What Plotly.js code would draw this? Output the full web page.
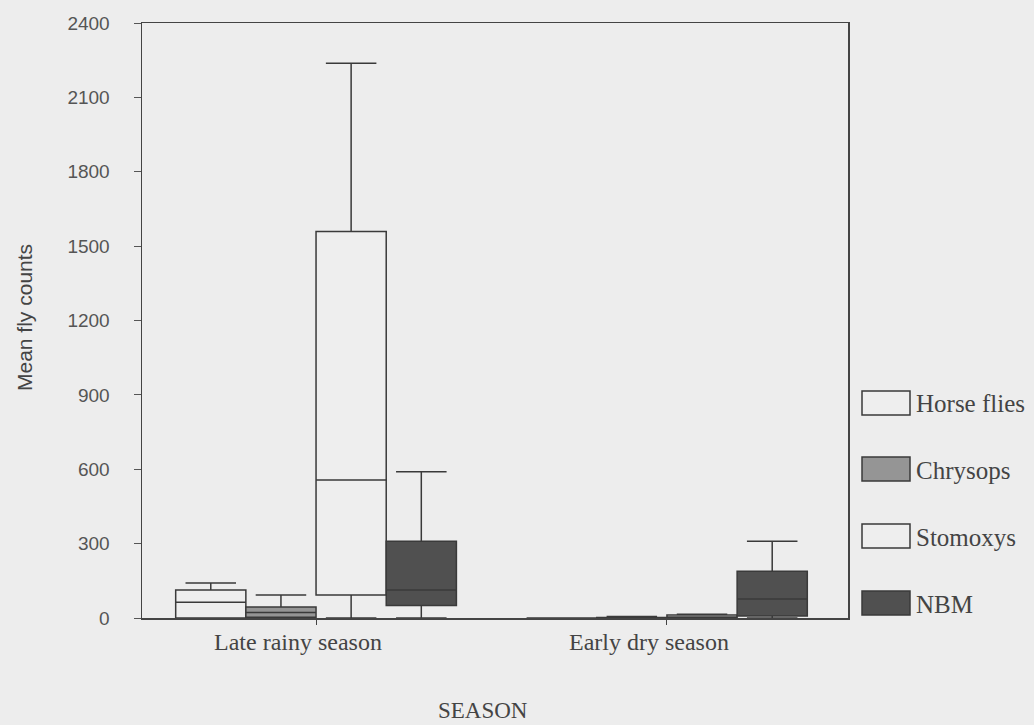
<!DOCTYPE html>
<html><head><meta charset="utf-8">
<script src="https://cdn.plot.ly/plotly-3.0.1.min.js"></script>
<style>body{margin:0;background:#ededed}</style></head>
<body><div id="chart" style="width:1034px;height:725px"></div>
<script>
// Categories and series
const seasons = ['Late rainy season', 'Early dry season'];
const species = ['Horse flies', 'Chrysops', 'Stomoxys', 'NBM'];
// Box statistics per species (order as in species), for each season
const lateLow    = [0, 0, 0, 0];
const lateQ1     = [0, 3, 93, 50];
const lateMedian = [64, 22, 557, 113];
const lateQ3     = [113, 44, 1559, 310];
const lateHigh   = [141, 93, 2238, 590];
const earlyLow    = [0, 0, 0, 0];
const earlyQ1     = [0, 0, 0, 8];
const earlyMedian = [0, 0, 4, 77];
const earlyQ3     = [0, 2, 12, 189];
const earlyHigh   = [0, 6, 15, 310];
const yTicks = [0, 300, 600, 900, 1200, 1500, 1800, 2100, 2400];

const fills = ['#eeeeee', '#959595', '#eeeeee', '#505050'];
const lineCol = '#3a3a3a';
const serif = 'Liberation Serif, serif';
const sans = 'Liberation Sans, Arial, sans-serif';

const traces = species.map((s, i) => ({
  type: 'box',
  name: s,
  x: seasons,
  lowerfence: [lateLow[i], earlyLow[i]],
  q1: [lateQ1[i], earlyQ1[i]],
  median: [lateMedian[i], earlyMedian[i]],
  q3: [lateQ3[i], earlyQ3[i]],
  upperfence: [lateHigh[i], earlyHigh[i]],
  fillcolor: fills[i],
  line: {color: lineCol, width: 1.5},
  whiskerwidth: 0.72,
  boxpoints: false,
  hoverinfo: 'skip',
  showlegend: false
}));

// plot area in pixels
const L = 142, R = 848, T = 23, B = 618, W = 1034, H = 725;
const px = x => (x - L) / (R - L);
const py = y => (B - y) / (B - T);

const shapes = [], annotations = [];
const legendY = [403, 469, 536, 603];
species.forEach((s, i) => {
  shapes.push({type: 'rect', xref: 'paper', yref: 'paper',
    x0: px(862), x1: px(910), y0: py(legendY[i] + 12), y1: py(legendY[i] - 12),
    fillcolor: fills[i], line: {color: lineCol, width: 1.5}});
  annotations.push({xref: 'paper', yref: 'paper', x: px(914), y: py(legendY[i] + 1),
    xanchor: 'left', yanchor: 'middle', text: s, showarrow: false,
    font: {family: serif, size: 25, color: '#444'}});
});
// category labels (slightly left of the ticks, as in the reference)
seasons.forEach(s => {
  annotations.push({xref: 'x', yref: 'paper', x: s, y: py(642), xshift: -18,
    xanchor: 'center', yanchor: 'middle', text: s, showarrow: false,
    font: {family: serif, size: 24, color: '#444'}});
});
annotations.push({xref: 'paper', yref: 'paper', x: px(483), y: py(711),
  xanchor: 'center', yanchor: 'middle', text: 'SEASON', showarrow: false,
  font: {family: serif, size: 23, color: '#444'}});
annotations.push({xref: 'paper', yref: 'paper', x: px(24), y: py(318), textangle: -90,
  xanchor: 'center', yanchor: 'middle', text: 'Mean fly counts', showarrow: false,
  font: {family: sans, size: 21, color: '#444'}});

const layout = {
  width: W, height: H,
  margin: {l: L, r: W - R, t: T, b: H - B},
  paper_bgcolor: '#ededed', plot_bgcolor: '#ededed',
  boxmode: 'group', boxgap: 0.2, boxgroupgap: 0,
  showlegend: false,
  xaxis: {
    range: [-0.496, 1.516], showgrid: false, zeroline: false,
    showline: true, linecolor: '#444', linewidth: 1.5, mirror: true,
    ticks: 'outside', ticklen: 5, tickcolor: '#444', showticklabels: false
  },
  yaxis: {
    range: [0, 2400], tickvals: yTicks, showgrid: false, zeroline: false,
    showline: true, linecolor: '#444', linewidth: 1.5, mirror: true,
    ticks: 'outside', ticklen: 7, tickcolor: '#555', ticklabelstandoff: 20,
    tickfont: {family: sans, size: 19, color: '#555'}
  },
  shapes: shapes,
  annotations: annotations
};

Plotly.newPlot('chart', traces, layout, {displayModeBar: false, staticPlot: true});
</script>
</body></html>
